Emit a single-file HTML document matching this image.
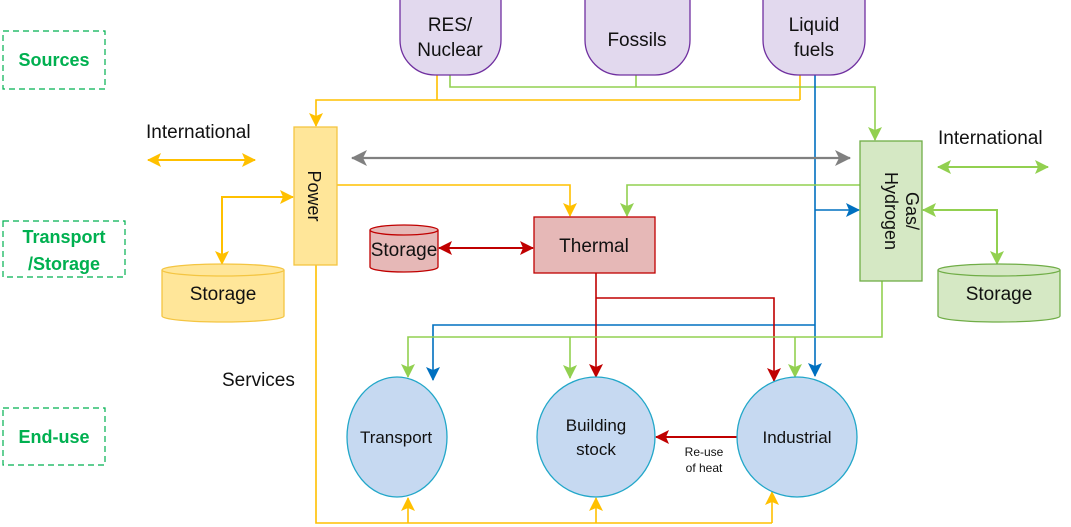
<!DOCTYPE html>
<html><head><meta charset="utf-8"><style>
html,body{margin:0;padding:0;background:#fff;}
svg{display:block;font-family:"Liberation Sans",sans-serif;}
</style></head><body>
<svg width="1071" height="527" viewBox="0 0 1071 527" xmlns="http://www.w3.org/2000/svg">
<defs>
<marker id="ay" markerWidth="14" markerHeight="14" refX="13" refY="7" orient="auto" markerUnits="userSpaceOnUse" viewBox="0 0 14 14"><path d="M0,0 L14,7 L0,14 L3,7 z" fill="#ffc000"/></marker>
<marker id="ag" markerWidth="14" markerHeight="14" refX="13" refY="7" orient="auto" markerUnits="userSpaceOnUse" viewBox="0 0 14 14"><path d="M0,0 L14,7 L0,14 L3,7 z" fill="#92d050"/></marker>
<marker id="ab" markerWidth="14" markerHeight="14" refX="13" refY="7" orient="auto" markerUnits="userSpaceOnUse" viewBox="0 0 14 14"><path d="M0,0 L14,7 L0,14 L3,7 z" fill="#0070c0"/></marker>
<marker id="ar" markerWidth="14" markerHeight="14" refX="13" refY="7" orient="auto" markerUnits="userSpaceOnUse" viewBox="0 0 14 14"><path d="M0,0 L14,7 L0,14 L3,7 z" fill="#c00000"/></marker>
<marker id="agr" markerWidth="16" markerHeight="16" refX="15" refY="8" orient="auto" markerUnits="userSpaceOnUse" viewBox="0 0 16 16"><path d="M0,0 L16,8 L0,16 L4,8 z" fill="#808080"/></marker>
<marker id="ays" markerWidth="14" markerHeight="14" refX="1" refY="7" orient="auto" markerUnits="userSpaceOnUse" viewBox="0 0 14 14"><path d="M14,0 L0,7 L14,14 L11,7 z" fill="#ffc000"/></marker>
<marker id="ags" markerWidth="14" markerHeight="14" refX="1" refY="7" orient="auto" markerUnits="userSpaceOnUse" viewBox="0 0 14 14"><path d="M14,0 L0,7 L14,14 L11,7 z" fill="#92d050"/></marker>
<marker id="ars" markerWidth="14" markerHeight="14" refX="1" refY="7" orient="auto" markerUnits="userSpaceOnUse" viewBox="0 0 14 14"><path d="M14,0 L0,7 L14,14 L11,7 z" fill="#c00000"/></marker>
<marker id="agrs" markerWidth="16" markerHeight="16" refX="1" refY="8" orient="auto" markerUnits="userSpaceOnUse" viewBox="0 0 16 16"><path d="M16,0 L0,8 L16,16 L12,8 z" fill="#808080"/></marker>
</defs>

<g fill="none" stroke="#00b050" stroke-width="1.2" stroke-dasharray="6,4">
<rect x="3" y="31" width="102" height="58"/>
<rect x="3" y="221" width="122" height="56"/>
<rect x="3" y="408" width="102" height="57"/>
</g>
<g fill="#00b050" font-weight="bold" font-size="18" text-anchor="middle">
<text x="54" y="66">Sources</text>
<text x="64" y="243">Transport</text>
<text x="64" y="270">/Storage</text>
<text x="54" y="443">End-use</text>
</g>

<g fill="none" stroke-width="1.6">
<path d="M437,75 V100 M800,75 V100" stroke="#ffc000"/>
<path d="M800,100 H316 V126" stroke="#ffc000" marker-end="url(#ay)"/>
<path d="M450,75 V87 H875 V140" stroke="#92d050" marker-end="url(#ag)"/>
<path d="M636,75 V87" stroke="#92d050"/>
<path d="M815,75 V376" stroke="#0070c0" marker-end="url(#ab)"/>
<path d="M815,210 H859" stroke="#0070c0" marker-end="url(#ab)"/>
<path d="M815,325 H433 V380" stroke="#0070c0" marker-end="url(#ab)"/>
<path d="M352,158 H850" stroke="#808080" stroke-width="2.2" marker-start="url(#agrs)" marker-end="url(#agr)"/>
<path d="M337,185 H570 V216" stroke="#ffc000" marker-end="url(#ay)"/>
<path d="M860,185 H627 V216" stroke="#92d050" marker-end="url(#ag)"/>
<path d="M439,248 H533" stroke="#c00000" stroke-width="2" marker-start="url(#ars)" marker-end="url(#ar)"/>
<path d="M596,273 V377" stroke="#c00000" marker-end="url(#ar)"/>
<path d="M596,298 H774 V381" stroke="#c00000" marker-end="url(#ar)"/>
<path d="M882,281 V337 H408 V377" stroke="#92d050" marker-end="url(#ag)"/>
<path d="M570,337 V378" stroke="#92d050" marker-end="url(#ag)"/>
<path d="M795,337 V377" stroke="#92d050" marker-end="url(#ag)"/>
<path d="M316,265 V523 H772" stroke="#ffc000"/>
<path d="M408,523 V498" stroke="#ffc000" marker-end="url(#ay)"/>
<path d="M596,523 V498" stroke="#ffc000" marker-end="url(#ay)"/>
<path d="M772,523 V492" stroke="#ffc000" marker-end="url(#ay)"/>
<path d="M737,437 H656" stroke="#c00000" stroke-width="2" marker-end="url(#ar)"/>
<path d="M148,160 H255" stroke="#ffc000" stroke-width="2" marker-start="url(#ays)" marker-end="url(#ay)"/>
<path d="M938,167 H1048" stroke="#92d050" stroke-width="2" marker-start="url(#ags)" marker-end="url(#ag)"/>
<path d="M293,197 H222 V264" stroke="#ffc000" stroke-width="2" marker-start="url(#ays)" marker-end="url(#ay)"/>
<path d="M923,210 H997 V264" stroke="#92d050" stroke-width="2" marker-start="url(#ags)" marker-end="url(#ag)"/>
</g>

<g fill="#e2d9ee" stroke="#7030a0" stroke-width="1.3">
<path d="M400,-20 H501 V40 A35,35 0 0 1 466,75 H435 A35,35 0 0 1 400,40 Z"/>
<path d="M585,-20 H690 V40 A35,35 0 0 1 655,75 H620 A35,35 0 0 1 585,40 Z"/>
<path d="M763,-20 H865 V40 A35,35 0 0 1 830,75 H798 A35,35 0 0 1 763,40 Z"/>
</g>
<g font-size="19" text-anchor="middle" fill="#111">
<text x="450" y="31">RES/</text><text x="450" y="56">Nuclear</text>
<text x="637" y="46">Fossils</text>
<text x="814" y="31">Liquid</text><text x="814" y="56">fuels</text>
</g>

<rect x="294" y="127" width="43" height="138" fill="#ffe699" stroke="#f4c542" stroke-width="1.3"/>
<text transform="translate(308,196) rotate(90)" font-size="18" text-anchor="middle" fill="#111">Power</text>
<rect x="860" y="141" width="62" height="140" fill="#d5e8c4" stroke="#70ad47" stroke-width="1.3"/>
<text transform="translate(897,211) rotate(90)" font-size="18" text-anchor="middle" fill="#111"><tspan x="0" y="-9">Gas/</tspan><tspan x="0" y="12">Hydrogen</tspan></text>
<rect x="534" y="217" width="121" height="56" fill="#e6b8b7" stroke="#c00000" stroke-width="1.3"/>
<text x="594" y="252" font-size="19" text-anchor="middle" fill="#111">Thermal</text>

<g stroke-width="1.3">
<path d="M370,230 V267 A34,5 0 0 0 438,267 V230" fill="#e6b8b7" stroke="#c00000"/>
<ellipse cx="404" cy="230" rx="34" ry="5" fill="#e6b8b7" stroke="#c00000"/>
<path d="M162,270 V316 A61,6 0 0 0 284,316 V270" fill="#ffe699" stroke="#f4c542"/>
<ellipse cx="223" cy="270" rx="61" ry="6" fill="#ffe699" stroke="#f4c542"/>
<path d="M938,270 V316 A61,6 0 0 0 1060,316 V270" fill="#d5e8c4" stroke="#70ad47"/>
<ellipse cx="999" cy="270" rx="61" ry="6" fill="#d5e8c4" stroke="#70ad47"/>
</g>
<g font-size="19" text-anchor="middle" fill="#111">
<text x="404" y="256">Storage</text>
<text x="223" y="300">Storage</text>
<text x="999" y="300">Storage</text>
</g>

<g fill="#c6d9f1" stroke="#22a7c9" stroke-width="1.3">
<ellipse cx="397" cy="437" rx="50" ry="60"/>
<ellipse cx="596" cy="437" rx="59" ry="60"/>
<ellipse cx="797" cy="437" rx="60" ry="60"/>
</g>
<g font-size="17" text-anchor="middle" fill="#111">
<text x="396" y="443">Transport</text>
<text x="596" y="431">Building</text><text x="596" y="455">stock</text>
<text x="797" y="443">Industrial</text>
</g>
<g font-size="12" text-anchor="middle" fill="#111">
<text x="704" y="456">Re-use</text><text x="704" y="472">of heat</text>
</g>

<g font-size="19" fill="#111">
<text x="146" y="138">International</text>
<text x="938" y="144">International</text>
<text x="222" y="386">Services</text>
</g>
</svg>
</body></html>
